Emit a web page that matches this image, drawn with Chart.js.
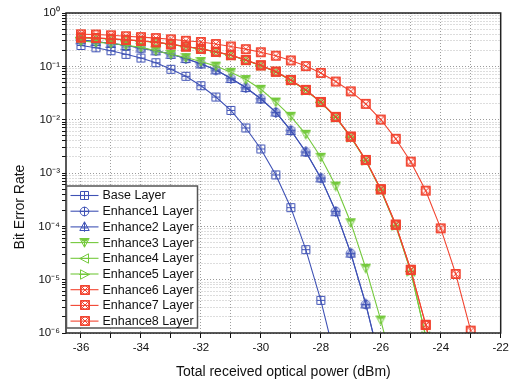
<!DOCTYPE html>
<html><head><meta charset="utf-8">
<script src="https://cdn.jsdelivr.net/npm/chart.js@4/dist/chart.umd.min.js"></script>
<style>html,body{margin:0;padding:0;background:#fff}</style>
</head><body>
<canvas id="c" width="512" height="385"></canvas>
<script>
// ---- data ----
const power = [-36,-35.5,-35,-34.5,-34,-33.5,-33,-32.5,-32,-31.5,-31,-30.5,-30,-29.5,-29,-28.5,-28,-27.5,-27,-26.5,-26,-25.5,-25,-24.5,-24,-23.5,-23];
const seriesNames = ["Base Layer","Enhance1 Layer","Enhance2 Layer","Enhance3 Layer","Enhance4 Layer","Enhance5 Layer","Enhance6 Layer","Enhance7 Layer","Enhance8 Layer"];
const baseLayer = [0.246,0.223,0.196,0.168,0.143,0.117,0.088,0.065,0.0433,0.0266,0.0149,0.00698,0.00282,0.00092,2.24e-4,3.65e-5,4.1e-6,3.0e-7];
const enhance1 = [0.312,0.290,0.270,0.248,0.218,0.196,0.170,0.139,0.112,0.0853,0.0597,0.0397,0.0247,0.0137,0.00632,0.00248,8.05e-4,1.91e-4,3.12e-5,3.45e-6,2.5e-7];
const enhance2 = [0.315,0.292,0.268,0.246,0.220,0.195,0.168,0.140,0.111,0.0860,0.0590,0.0400,0.0245,0.0139,0.00625,0.00250,8.1e-4,1.88e-4,3.15e-5,3.5e-6,2.6e-7];
const enhance3 = [0.298,0.282,0.270,0.248,0.227,0.196,0.168,0.146,0.123,0.101,0.0773,0.0566,0.0371,0.0214,0.01156,0.00532,0.00197,5.7e-4,1.17e-4,1.64e-5,1.75e-6,1.4e-7];
const enhance4 = [0.342,0.336,0.325,0.311,0.298,0.281,0.257,0.233,0.211,0.185,0.160,0.130,0.103,0.0785,0.0548,0.0356,0.0211,0.0110,0.00470,0.00170,4.8e-4,1.02e-4,1.42e-5,8.5e-7];
const enhance5 = [0.344,0.337,0.326,0.312,0.299,0.282,0.258,0.234,0.212,0.186,0.161,0.130,0.103,0.0788,0.0550,0.0357,0.0212,0.0111,0.00472,0.00171,4.85e-4,1.03e-4,1.44e-5,8.7e-7];
const enhance6 = [0.347,0.340,0.328,0.314,0.301,0.283,0.259,0.235,0.213,0.187,0.162,0.131,0.104,0.0793,0.0554,0.0360,0.0214,0.0112,0.00479,0.00175,4.94e-4,1.07e-4,1.52e-5,1.41e-6,9e-8];
const enhance7 = [0.349,0.341,0.329,0.315,0.302,0.284,0.260,0.236,0.214,0.188,0.163,0.132,0.105,0.0796,0.0556,0.0362,0.0215,0.0113,0.00482,0.00176,4.98e-4,1.08e-4,1.54e-5,1.43e-6,9e-8];
const enhance8 = [0.399,0.395,0.382,0.367,0.353,0.338,0.321,0.301,0.286,0.262,0.236,0.210,0.184,0.158,0.129,0.101,0.0753,0.0519,0.0340,0.0198,0.01007,0.00438,0.00163,4.66e-4,9.18e-5,1.28e-5,1.11e-6];
const xTickValues = [-36,-35,-34,-33,-32,-31,-30,-29,-28,-27,-26,-25,-24,-23,-22];
const xTitle = 'Total received optical power (dBm)';
const yTitle = 'Bit Error Rate';

const seriesValues = [baseLayer,enhance1,enhance2,enhance3,enhance4,enhance5,enhance6,enhance7,enhance8];

// ---- styles ----
const BLUE = '#3f52b5', GREEN = '#74c93c', RED = '#f2432f';
const seriesColors = [BLUE,BLUE,BLUE,GREEN,GREEN,GREEN,RED,RED,RED];
const seriesMarkers = ['sqplus','circplus','triup','tridown','trileft','triright','sqxcirc','sqxcirc','sqxcirc'];
const FONT = "'Liberation Sans', Arial, Helvetica, sans-serif";

function makeMarker(type, color) {
  const S = (type === 'sqxcirc') ? 12 : 11;
  const cv = document.createElement('canvas');
  cv.width = S; cv.height = S;
  const c = cv.getContext('2d');
  c.strokeStyle = color; c.fillStyle = color; c.lineWidth = 1;
  const m = S / 2;
  c.beginPath();
  if (type === 'sqplus') {
    c.rect(1.5, 1.5, S - 3, S - 3);
    c.moveTo(m, 1.5); c.lineTo(m, S - 1.5);
    c.moveTo(1.5, m); c.lineTo(S - 1.5, m);
  } else if (type === 'circplus') {
    c.arc(m, m, 4.3, 0, Math.PI * 2);
    c.moveTo(m, 0.8); c.lineTo(m, S - 0.8);
    c.moveTo(0.8, m); c.lineTo(S - 0.8, m);
  } else if (type === 'triup') {
    c.moveTo(m, 0.8); c.lineTo(S - 0.8, S - 1.5); c.lineTo(0.8, S - 1.5); c.closePath();
    c.moveTo(m, 0.8); c.lineTo(m, S - 0.2);
    c.moveTo(2.5, m + 1.5); c.lineTo(S - 2.5, m + 1.5);
  } else if (type === 'tridown') {
    c.moveTo(0.8, 1.5); c.lineTo(S - 0.8, 1.5); c.lineTo(m, S - 0.8); c.closePath();
    c.moveTo(m, 1.5); c.lineTo(m, S - 0.8);
    c.stroke();
    c.beginPath();
    c.moveTo(0.8, 1); c.lineTo(S - 0.8, 1); c.lineTo(m + 2.2, 4.5); c.lineTo(m - 2.2, 4.5); c.closePath();
    c.fill();
    return cv;
  } else if (type === 'trileft') {
    c.moveTo(0.8, m); c.lineTo(S - 1.5, 0.8); c.lineTo(S - 1.5, S - 0.8); c.closePath();
    c.moveTo(0.2, m); c.lineTo(S - 0.2, m);
  } else if (type === 'triright') {
    c.moveTo(S - 0.8, m); c.lineTo(1.5, 0.8); c.lineTo(1.5, S - 0.8); c.closePath();
    c.moveTo(0.2, m); c.lineTo(S - 0.2, m);
  } else if (type === 'sqxcirc') {
    c.rect(1.5, 1.5, S - 3, S - 3);
    c.moveTo(m + 4, m); c.arc(m, m, 4, 0, Math.PI * 2);
    c.moveTo(1.5, 1.5); c.lineTo(S - 1.5, S - 1.5);
    c.moveTo(S - 1.5, 1.5); c.lineTo(1.5, S - 1.5);
  }
  c.stroke();
  return cv;
}

const markerImages = seriesMarkers.map((t, i) => makeMarker(t, seriesColors[i]));

const datasets = seriesValues.map((vals, i) => ({
  label: seriesNames[i],
  data: vals.map((v, k) => ({x: power[k], y: v})),
  borderColor: seriesColors[i],
  backgroundColor: seriesColors[i],
  borderWidth: 1.1,
  pointStyle: markerImages[i],
  pointRadius: 4,
  tension: 0,
  order: 8 - i
}));

const SUP = {'-':'\u207B','0':'\u2070','1':'\u00B9','2':'\u00B2','3':'\u00B3','4':'\u2074','5':'\u2075','6':'\u2076','7':'\u2077','8':'\u2078','9':'\u2079'};
function isDecade(v) {
  const l = Math.log10(v);
  return Math.abs(l - Math.round(l)) < 1e-6;
}

const framePlugin = {
  id: 'frameLegend',
  afterDraw(chart) {
    const ctx = chart.ctx, a = chart.chartArea;
    ctx.save();
    // frame
    ctx.strokeStyle = '#222'; ctx.lineWidth = 1.5;
    ctx.strokeRect(a.left, a.top, a.right - a.left, a.bottom - a.top);
    // y title
    ctx.save();
    ctx.translate(20, 207);
    ctx.rotate(-Math.PI / 2);
    ctx.font = '14px ' + FONT;
    ctx.fillStyle = '#111';
    ctx.textAlign = 'center'; ctx.textBaseline = 'middle';
    ctx.fillText(yTitle, 0, 0);
    ctx.restore();
    // legend
    const lx = a.left + 0.5, ly = 186, lw = 131, lh = 142;
    ctx.fillStyle = '#fff';
    ctx.fillRect(lx, ly, lw, lh);
    ctx.strokeStyle = '#555'; ctx.lineWidth = 1.5;
    ctx.strokeRect(lx, ly, lw, lh);
    ctx.font = '12.5px ' + FONT;
    ctx.textBaseline = 'middle';
    seriesNames.forEach((name, i) => {
      const y = ly + 9.5 + i * 15.7;
      ctx.strokeStyle = seriesColors[i]; ctx.lineWidth = 1.1;
      ctx.beginPath(); ctx.moveTo(lx + 4, y); ctx.lineTo(lx + 32, y); ctx.stroke();
      const img = markerImages[i];
      ctx.drawImage(img, Math.round(lx + 18 - img.width / 2), Math.round(y - img.height / 2));
      ctx.fillStyle = '#111';
      ctx.fillText(name, lx + 36, y + 0.5);
    });
    ctx.restore();
  }
};

new Chart(document.getElementById('c'), {
  type: 'line',
  data: { datasets },
  plugins: [framePlugin],
  options: {
    responsive: false,
    animation: false,
    devicePixelRatio: 1,
    layout: { padding: { top: 13, right: 10, left: 0, bottom: 2 } },
    plugins: { legend: { display: false }, tooltip: { enabled: false } },
    scales: {
      x: {
        type: 'linear', min: -36.5, max: -22,
        afterFit(s) { s.height = 50; },
        afterBuildTicks(s) { s.ticks = xTickValues.map(v => ({ value: v })); },
        ticks: {
          autoSkip: false, maxRotation: 0, padding: 3, color: '#111',
          font: { family: FONT, size: 11.5 },
          callback: v => (v % 2 === 0 ? String(v) : '')
        },
        grid: { color: '#9c9c9c', lineWidth: 1, tickLength: 5, tickColor: '#111', drawTicks: true },
        border: { display: false, dash: [1, 2] },
        title: { display: true, text: xTitle, color: '#111',
                 font: { family: FONT, size: 14 }, padding: { top: 0, bottom: 2 } }
      },
      y: {
        type: 'logarithmic', min: 1e-6, max: 1,
        afterFit(s) { s.width = 66; },
        afterBuildTicks(s) {
          const t = [];
          for (let e = -6; e <= 0; e++) {
            for (let m = 1; m <= 9; m++) {
              const v = m * Math.pow(10, e);
              if (v <= 1.0000001) t.push({ value: v });
            }
          }
          s.ticks = t;
        },
        ticks: {
          autoSkip: false, padding: 2, color: '#111',
          font: { family: FONT, size: 11.5 },
          callback: v => {
            if (!isDecade(v)) return '';
            const e = String(Math.round(Math.log10(v)));
            return '10' + e.split('').map(ch => SUP[ch]).join('');
          }
        },
        grid: {
          color: c => (c.tick && isDecade(c.tick.value)) ? '#9c9c9c' : '#dddddd',
          lineWidth: 1, tickLength: 4, tickColor: '#111', drawTicks: true
        },
        border: { display: false, dash: c => (c.tick && isDecade(c.tick.value)) ? [1, 2] : [2, 1] },
        title: { display: false, text: yTitle }
      }
    }
  }
});
</script>
</body></html>
